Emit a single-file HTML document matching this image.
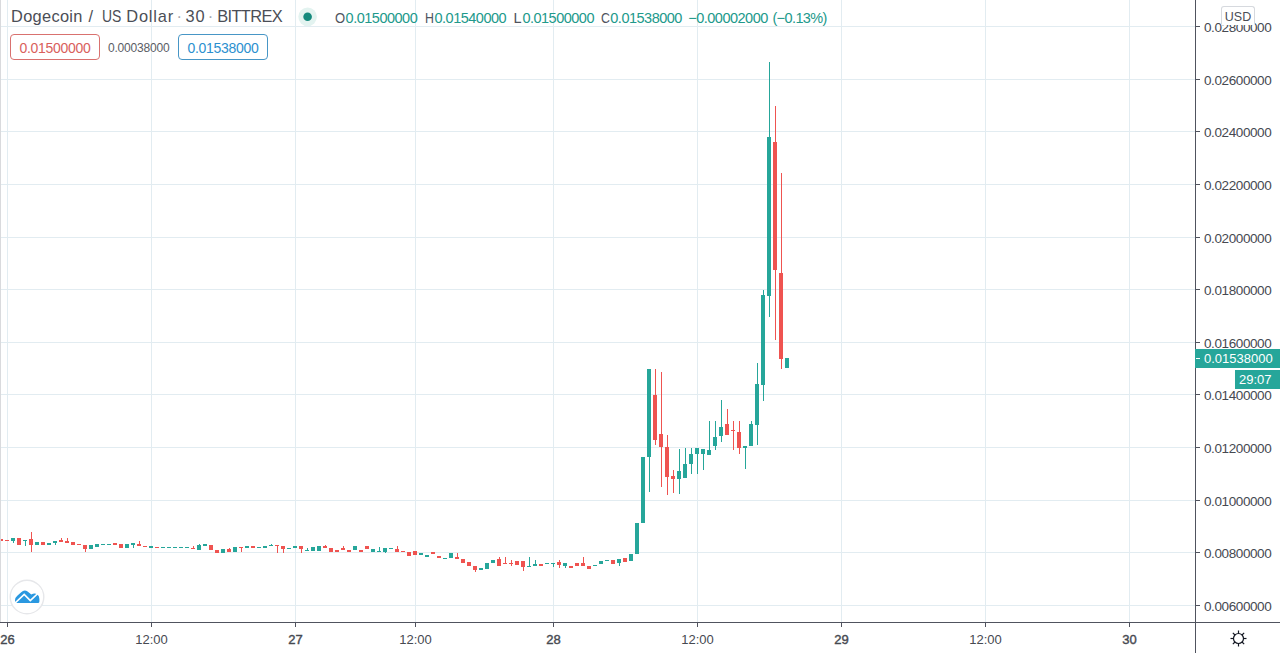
<!DOCTYPE html>
<html><head><meta charset="utf-8">
<style>
html,body{margin:0;padding:0;background:#ffffff;}
body{width:1280px;height:653px;position:relative;overflow:hidden;font-family:"Liberation Sans",sans-serif;}
svg{position:absolute;left:0;top:0;}
.pl{position:absolute;left:1204px;height:16px;line-height:16px;font-size:13.5px;letter-spacing:-0.4px;color:#464951;white-space:nowrap;}
.tl{position:absolute;top:632px;width:81px;text-align:center;height:16px;line-height:16px;font-size:13px;color:#464951;}
.tl.b{-webkit-text-stroke:0.4px #464951;}
.t{position:absolute;top:7px;font-size:16.4px;line-height:18px;color:#4b4e56;white-space:nowrap;}
.t.dot{color:#a3a6ad;}
.o{position:absolute;top:9.5px;font-size:14.5px;line-height:16px;color:#50535e;white-space:nowrap;}
.o.v{color:#21998b;letter-spacing:-0.5px;}
.box{position:absolute;top:34px;height:26px;border:1px solid;border-radius:4px;box-sizing:border-box;font-size:14px;letter-spacing:-0.3px;line-height:26px;text-indent:0px;text-align:center;}
.mid{position:absolute;left:108px;top:39.5px;font-size:12px;letter-spacing:-0.2px;line-height:16px;color:#5a5d65;}
.usd{position:absolute;left:1221px;top:6px;width:34px;height:19px;box-sizing:border-box;border:1px solid #d6d9de;border-bottom-color:transparent;border-radius:3px 3px 0 0;background:#ffffff;font-size:12.5px;line-height:18px;padding-top:1px;text-align:center;color:#4a4d56;}
.cur{position:absolute;left:1204px;top:351px;font-size:13px;line-height:16px;color:#ffffff;}
.cd{position:absolute;left:1239px;top:372px;font-size:13px;line-height:16px;color:#ffffff;}
</style></head><body>
<svg width="1280" height="653" viewBox="0 0 1280 653" shape-rendering="crispEdges">
<rect x="0" y="605" width="1195" height="1" fill="#e2ecf1"/>
<rect x="0" y="552" width="1195" height="1" fill="#e2ecf1"/>
<rect x="0" y="500" width="1195" height="1" fill="#e2ecf1"/>
<rect x="0" y="447" width="1195" height="1" fill="#e2ecf1"/>
<rect x="0" y="394" width="1195" height="1" fill="#e2ecf1"/>
<rect x="0" y="342" width="1195" height="1" fill="#e2ecf1"/>
<rect x="0" y="289" width="1195" height="1" fill="#e2ecf1"/>
<rect x="0" y="237" width="1195" height="1" fill="#e2ecf1"/>
<rect x="0" y="184" width="1195" height="1" fill="#e2ecf1"/>
<rect x="0" y="131" width="1195" height="1" fill="#e2ecf1"/>
<rect x="0" y="79" width="1195" height="1" fill="#e2ecf1"/>
<rect x="0" y="26" width="1195" height="1" fill="#e2ecf1"/>
<rect x="7" y="0" width="1" height="622" fill="#e2ecf1"/>
<rect x="151" y="0" width="1" height="622" fill="#e2ecf1"/>
<rect x="295" y="0" width="1" height="622" fill="#e2ecf1"/>
<rect x="415" y="0" width="1" height="622" fill="#e2ecf1"/>
<rect x="553" y="0" width="1" height="622" fill="#e2ecf1"/>
<rect x="697" y="0" width="1" height="622" fill="#e2ecf1"/>
<rect x="841" y="0" width="1" height="622" fill="#e2ecf1"/>
<rect x="985" y="0" width="1" height="622" fill="#e2ecf1"/>
<rect x="1129" y="0" width="1" height="622" fill="#e2ecf1"/>
<rect x="-1" y="538.5" width="4" height="2.0" fill="#ef5350"/>
<rect x="5" y="540.0" width="4" height="1.2" fill="#ef5350"/>
<rect x="13" y="537.5" width="1" height="5.2" fill="#26a69a"/>
<rect x="11" y="537.5" width="4" height="3.0" fill="#26a69a"/>
<rect x="17" y="538.0" width="4" height="6.5" fill="#ef5350"/>
<rect x="25" y="540.0" width="1" height="5.5" fill="#26a69a"/>
<rect x="23" y="540.0" width="4" height="1.2" fill="#26a69a"/>
<rect x="31" y="532.0" width="1" height="19.5" fill="#ef5350"/>
<rect x="29" y="539.0" width="4" height="6.0" fill="#ef5350"/>
<rect x="35" y="542.0" width="4" height="3.0" fill="#26a69a"/>
<rect x="41" y="541.5" width="4" height="3.0" fill="#ef5350"/>
<rect x="47" y="542.5" width="4" height="2.0" fill="#26a69a"/>
<rect x="55" y="540.5" width="1" height="4.0" fill="#26a69a"/>
<rect x="53" y="540.5" width="4" height="2.5" fill="#26a69a"/>
<rect x="61" y="537.9" width="1" height="3.7" fill="#ef5350"/>
<rect x="59" y="539.7" width="4" height="1.9" fill="#ef5350"/>
<rect x="67" y="538.0" width="1" height="4.5" fill="#ef5350"/>
<rect x="65" y="540.5" width="4" height="2.0" fill="#ef5350"/>
<rect x="71" y="542.2" width="4" height="2.4" fill="#ef5350"/>
<rect x="77" y="544.0" width="4" height="1.2" fill="#ef5350"/>
<rect x="85" y="545.1" width="1" height="6.7" fill="#ef5350"/>
<rect x="83" y="545.1" width="4" height="3.8" fill="#ef5350"/>
<rect x="89" y="545.4" width="4" height="3.2" fill="#26a69a"/>
<rect x="95" y="544.0" width="4" height="2.7" fill="#26a69a"/>
<rect x="101" y="543.5" width="4" height="1.2" fill="#26a69a"/>
<rect x="107" y="543.5" width="4" height="1.2" fill="#26a69a"/>
<rect x="113" y="543.2" width="4" height="1.6" fill="#ef5350"/>
<rect x="119" y="544.0" width="4" height="3.5" fill="#ef5350"/>
<rect x="125" y="544.0" width="4" height="3.5" fill="#26a69a"/>
<rect x="133" y="543.2" width="1" height="5.1" fill="#26a69a"/>
<rect x="131" y="543.2" width="4" height="1.6" fill="#26a69a"/>
<rect x="139" y="541.0" width="1" height="4.9" fill="#ef5350"/>
<rect x="137" y="543.8" width="4" height="2.1" fill="#ef5350"/>
<rect x="143" y="545.5" width="4" height="1.5" fill="#ef5350"/>
<rect x="149" y="546.2" width="4" height="1.6" fill="#26a69a"/>
<rect x="155" y="546.8" width="4" height="1.2" fill="#ef5350"/>
<rect x="161" y="547.0" width="4" height="1.2" fill="#26a69a"/>
<rect x="167" y="547.0" width="4" height="1.2" fill="#26a69a"/>
<rect x="173" y="547.0" width="4" height="1.2" fill="#26a69a"/>
<rect x="179" y="547.0" width="4" height="1.2" fill="#26a69a"/>
<rect x="185" y="547.0" width="4" height="1.2" fill="#26a69a"/>
<rect x="193" y="545.9" width="1" height="3.5" fill="#ef5350"/>
<rect x="191" y="547.5" width="4" height="1.9" fill="#ef5350"/>
<rect x="199" y="544.0" width="1" height="5.7" fill="#26a69a"/>
<rect x="197" y="544.8" width="4" height="4.9" fill="#26a69a"/>
<rect x="203" y="544.0" width="4" height="1.6" fill="#26a69a"/>
<rect x="209" y="545.1" width="4" height="4.6" fill="#ef5350"/>
<rect x="215" y="550.0" width="4" height="2.9" fill="#ef5350"/>
<rect x="221" y="549.1" width="4" height="4.0" fill="#26a69a"/>
<rect x="229" y="548.0" width="1" height="3.8" fill="#ef5350"/>
<rect x="227" y="549.1" width="4" height="2.7" fill="#ef5350"/>
<rect x="233" y="547.3" width="4" height="4.5" fill="#26a69a"/>
<rect x="241" y="546.7" width="1" height="5.1" fill="#ef5350"/>
<rect x="239" y="546.7" width="4" height="1.2" fill="#ef5350"/>
<rect x="245" y="546.2" width="4" height="1.6" fill="#26a69a"/>
<rect x="251" y="546.2" width="4" height="1.6" fill="#ef5350"/>
<rect x="257" y="547.0" width="4" height="1.3" fill="#26a69a"/>
<rect x="263" y="546.2" width="4" height="1.6" fill="#26a69a"/>
<rect x="271" y="544.0" width="1" height="1.9" fill="#26a69a"/>
<rect x="269" y="544.8" width="4" height="1.2" fill="#26a69a"/>
<rect x="277" y="545.0" width="1" height="8.0" fill="#ef5350"/>
<rect x="275" y="545.0" width="4" height="1.2" fill="#ef5350"/>
<rect x="283" y="546.2" width="1" height="6.7" fill="#ef5350"/>
<rect x="281" y="546.2" width="4" height="2.4" fill="#ef5350"/>
<rect x="287" y="548.0" width="4" height="1.2" fill="#26a69a"/>
<rect x="293" y="546.2" width="4" height="1.8" fill="#26a69a"/>
<rect x="301" y="546.2" width="1" height="6.8" fill="#ef5350"/>
<rect x="299" y="546.2" width="4" height="2.7" fill="#ef5350"/>
<rect x="307" y="547.8" width="1" height="3.2" fill="#26a69a"/>
<rect x="305" y="549.7" width="4" height="1.3" fill="#26a69a"/>
<rect x="311" y="547.0" width="4" height="3.7" fill="#26a69a"/>
<rect x="317" y="546.4" width="4" height="4.3" fill="#26a69a"/>
<rect x="325" y="545.0" width="1" height="3.0" fill="#ef5350"/>
<rect x="323" y="546.2" width="4" height="1.8" fill="#ef5350"/>
<rect x="329" y="548.0" width="4" height="3.8" fill="#ef5350"/>
<rect x="335" y="550.0" width="4" height="1.5" fill="#ef5350"/>
<rect x="343" y="546.2" width="1" height="3.5" fill="#ef5350"/>
<rect x="341" y="547.8" width="4" height="1.9" fill="#ef5350"/>
<rect x="347" y="550.0" width="4" height="1.5" fill="#ef5350"/>
<rect x="353" y="546.4" width="4" height="3.8" fill="#26a69a"/>
<rect x="359" y="550.0" width="4" height="1.5" fill="#ef5350"/>
<rect x="365" y="546.4" width="4" height="3.0" fill="#ef5350"/>
<rect x="371" y="549.4" width="4" height="2.1" fill="#26a69a"/>
<rect x="379" y="547.3" width="1" height="4.2" fill="#26a69a"/>
<rect x="377" y="550.7" width="4" height="1.2" fill="#26a69a"/>
<rect x="385" y="548.0" width="1" height="4.9" fill="#26a69a"/>
<rect x="383" y="548.0" width="4" height="3.5" fill="#26a69a"/>
<rect x="389" y="548.0" width="4" height="1.4" fill="#26a69a"/>
<rect x="397" y="546.2" width="1" height="5.3" fill="#ef5350"/>
<rect x="395" y="548.6" width="4" height="2.9" fill="#ef5350"/>
<rect x="401" y="551.0" width="4" height="1.2" fill="#ef5350"/>
<rect x="407" y="552.1" width="4" height="3.7" fill="#ef5350"/>
<rect x="413" y="551.0" width="4" height="4.3" fill="#ef5350"/>
<rect x="419" y="553.1" width="4" height="2.2" fill="#26a69a"/>
<rect x="425" y="555.3" width="4" height="1.3" fill="#26a69a"/>
<rect x="431" y="551.5" width="4" height="2.7" fill="#ef5350"/>
<rect x="437" y="555.5" width="4" height="2.7" fill="#ef5350"/>
<rect x="443" y="558.0" width="4" height="1.2" fill="#26a69a"/>
<rect x="449" y="553.1" width="4" height="4.6" fill="#26a69a"/>
<rect x="457" y="553.1" width="1" height="5.9" fill="#ef5350"/>
<rect x="455" y="557.4" width="4" height="1.6" fill="#ef5350"/>
<rect x="461" y="559.0" width="4" height="3.5" fill="#ef5350"/>
<rect x="467" y="562.3" width="4" height="4.0" fill="#ef5350"/>
<rect x="475" y="566.3" width="1" height="5.3" fill="#ef5350"/>
<rect x="473" y="566.3" width="4" height="3.5" fill="#ef5350"/>
<rect x="479" y="568.2" width="4" height="1.3" fill="#26a69a"/>
<rect x="485" y="563.3" width="4" height="5.7" fill="#26a69a"/>
<rect x="491" y="559.8" width="4" height="2.7" fill="#26a69a"/>
<rect x="499" y="557.2" width="1" height="9.1" fill="#ef5350"/>
<rect x="497" y="558.5" width="4" height="7.8" fill="#ef5350"/>
<rect x="505" y="557.2" width="1" height="6.7" fill="#ef5350"/>
<rect x="503" y="562.8" width="4" height="1.2" fill="#ef5350"/>
<rect x="511" y="560.4" width="1" height="5.9" fill="#ef5350"/>
<rect x="509" y="563.0" width="4" height="1.2" fill="#ef5350"/>
<rect x="515" y="560.6" width="4" height="4.3" fill="#ef5350"/>
<rect x="523" y="560.9" width="1" height="10.2" fill="#ef5350"/>
<rect x="521" y="560.9" width="4" height="5.9" fill="#ef5350"/>
<rect x="529" y="557.4" width="1" height="9.9" fill="#26a69a"/>
<rect x="527" y="565.7" width="4" height="1.6" fill="#26a69a"/>
<rect x="535" y="560.4" width="1" height="5.9" fill="#26a69a"/>
<rect x="533" y="564.1" width="4" height="2.2" fill="#26a69a"/>
<rect x="539" y="563.6" width="4" height="2.7" fill="#ef5350"/>
<rect x="545" y="563.0" width="4" height="1.2" fill="#26a69a"/>
<rect x="553" y="562.5" width="1" height="4.3" fill="#26a69a"/>
<rect x="551" y="562.5" width="4" height="1.4" fill="#26a69a"/>
<rect x="559" y="560.1" width="1" height="7.8" fill="#ef5350"/>
<rect x="557" y="562.3" width="4" height="2.9" fill="#ef5350"/>
<rect x="565" y="563.0" width="1" height="4.6" fill="#26a69a"/>
<rect x="563" y="563.0" width="4" height="3.3" fill="#26a69a"/>
<rect x="569" y="566.3" width="4" height="1.6" fill="#ef5350"/>
<rect x="575" y="563.3" width="4" height="3.0" fill="#ef5350"/>
<rect x="583" y="557.2" width="1" height="9.1" fill="#ef5350"/>
<rect x="581" y="563.0" width="4" height="3.3" fill="#ef5350"/>
<rect x="587" y="566.3" width="4" height="2.7" fill="#ef5350"/>
<rect x="593" y="565.2" width="4" height="1.2" fill="#26a69a"/>
<rect x="599" y="560.7" width="4" height="3.0" fill="#26a69a"/>
<rect x="605" y="560.0" width="4" height="1.2" fill="#26a69a"/>
<rect x="611" y="559.6" width="4" height="4.2" fill="#ef5350"/>
<rect x="619" y="559.2" width="1" height="6.3" fill="#26a69a"/>
<rect x="617" y="559.2" width="4" height="4.2" fill="#26a69a"/>
<rect x="623" y="557.5" width="4" height="4.2" fill="#ef5350"/>
<rect x="629" y="553.7" width="4" height="7.6" fill="#26a69a"/>
<rect x="635" y="522.6" width="4" height="31.1" fill="#26a69a"/>
<rect x="641" y="457.2" width="4" height="65.6" fill="#26a69a"/>
<rect x="649" y="369.0" width="1" height="122.7" fill="#26a69a"/>
<rect x="647" y="369.0" width="4" height="87.6" fill="#26a69a"/>
<rect x="655" y="369.0" width="1" height="75.8" fill="#ef5350"/>
<rect x="653" y="395.0" width="4" height="45.0" fill="#ef5350"/>
<rect x="661" y="371.7" width="1" height="115.2" fill="#ef5350"/>
<rect x="659" y="433.8" width="4" height="13.5" fill="#ef5350"/>
<rect x="667" y="434.5" width="1" height="60.0" fill="#ef5350"/>
<rect x="665" y="446.9" width="4" height="30.3" fill="#ef5350"/>
<rect x="673" y="470.3" width="1" height="22.8" fill="#ef5350"/>
<rect x="671" y="475.9" width="4" height="3.4" fill="#ef5350"/>
<rect x="679" y="449.0" width="1" height="44.8" fill="#26a69a"/>
<rect x="677" y="471.0" width="4" height="8.3" fill="#26a69a"/>
<rect x="685" y="447.9" width="1" height="29.7" fill="#26a69a"/>
<rect x="683" y="463.8" width="4" height="13.8" fill="#26a69a"/>
<rect x="691" y="447.9" width="1" height="26.2" fill="#26a69a"/>
<rect x="689" y="454.1" width="4" height="9.7" fill="#26a69a"/>
<rect x="697" y="447.9" width="1" height="26.2" fill="#26a69a"/>
<rect x="695" y="447.9" width="4" height="6.2" fill="#26a69a"/>
<rect x="703" y="448.6" width="1" height="21.4" fill="#26a69a"/>
<rect x="701" y="448.6" width="4" height="5.5" fill="#26a69a"/>
<rect x="709" y="421.0" width="1" height="33.8" fill="#26a69a"/>
<rect x="707" y="450.0" width="4" height="4.8" fill="#26a69a"/>
<rect x="715" y="421.0" width="1" height="29.0" fill="#26a69a"/>
<rect x="713" y="436.9" width="4" height="9.0" fill="#26a69a"/>
<rect x="721" y="399.7" width="1" height="42.0" fill="#26a69a"/>
<rect x="719" y="426.6" width="4" height="9.6" fill="#26a69a"/>
<rect x="727" y="408.6" width="1" height="26.5" fill="#ef5350"/>
<rect x="725" y="423.9" width="4" height="11.2" fill="#ef5350"/>
<rect x="733" y="421.4" width="1" height="28.2" fill="#ef5350"/>
<rect x="731" y="429.5" width="4" height="1.5" fill="#ef5350"/>
<rect x="739" y="421.4" width="1" height="32.2" fill="#ef5350"/>
<rect x="737" y="431.9" width="4" height="16.1" fill="#ef5350"/>
<rect x="745" y="446.4" width="1" height="22.5" fill="#26a69a"/>
<rect x="743" y="446.4" width="4" height="1.6" fill="#26a69a"/>
<rect x="751" y="421.4" width="1" height="25.0" fill="#26a69a"/>
<rect x="749" y="423.9" width="4" height="22.5" fill="#26a69a"/>
<rect x="757" y="363.4" width="1" height="81.4" fill="#26a69a"/>
<rect x="755" y="383.7" width="4" height="41.0" fill="#26a69a"/>
<rect x="763" y="289.7" width="1" height="110.8" fill="#26a69a"/>
<rect x="761" y="295.2" width="4" height="89.3" fill="#26a69a"/>
<rect x="769" y="61.7" width="1" height="254.8" fill="#26a69a"/>
<rect x="767" y="137.0" width="4" height="159.0" fill="#26a69a"/>
<rect x="775" y="106.3" width="1" height="233.2" fill="#ef5350"/>
<rect x="773" y="141.9" width="4" height="127.7" fill="#ef5350"/>
<rect x="781" y="172.8" width="1" height="196.4" fill="#ef5350"/>
<rect x="779" y="273.4" width="4" height="85.3" fill="#ef5350"/>
<rect x="785" y="358.4" width="4" height="10.0" fill="#26a69a"/>
<rect x="1195" y="0" width="1" height="653" fill="#50535e"/>
<rect x="0" y="622" width="1280" height="1" fill="#50535e"/>
<rect x="1196" y="605" width="4" height="1" fill="#50535e"/>
<rect x="1196" y="552" width="4" height="1" fill="#50535e"/>
<rect x="1196" y="500" width="4" height="1" fill="#50535e"/>
<rect x="1196" y="447" width="4" height="1" fill="#50535e"/>
<rect x="1196" y="394" width="4" height="1" fill="#50535e"/>
<rect x="1196" y="342" width="4" height="1" fill="#50535e"/>
<rect x="1196" y="289" width="4" height="1" fill="#50535e"/>
<rect x="1196" y="237" width="4" height="1" fill="#50535e"/>
<rect x="1196" y="184" width="4" height="1" fill="#50535e"/>
<rect x="1196" y="131" width="4" height="1" fill="#50535e"/>
<rect x="1196" y="79" width="4" height="1" fill="#50535e"/>
<rect x="1196" y="26" width="4" height="1" fill="#50535e"/>
<rect x="7" y="623" width="1" height="4" fill="#50535e"/>
<rect x="151" y="623" width="1" height="4" fill="#50535e"/>
<rect x="295" y="623" width="1" height="4" fill="#50535e"/>
<rect x="415" y="623" width="1" height="4" fill="#50535e"/>
<rect x="553" y="623" width="1" height="4" fill="#50535e"/>
<rect x="697" y="623" width="1" height="4" fill="#50535e"/>
<rect x="841" y="623" width="1" height="4" fill="#50535e"/>
<rect x="985" y="623" width="1" height="4" fill="#50535e"/>
<rect x="1129" y="623" width="1" height="4" fill="#50535e"/>
<rect x="0" y="0" width="1" height="622" fill="#d9dadd"/>
<rect x="1195" y="349" width="85" height="19" fill="#26a69a"/>
<rect x="1196" y="358" width="4" height="1" fill="#ffffff"/>
<rect x="1235" y="370" width="45" height="19" fill="#26a69a"/>
<circle shape-rendering="geometricPrecision" cx="27" cy="597" r="16.8" fill="#ffffff" stroke="#e6e7ea" stroke-width="1.4"/>
<path shape-rendering="geometricPrecision" d="M15 600.2 Q15 597.6 17.3 595.7 L21.2 592.3 Q24.3 589.2 27.6 591.6 L31.3 594.6 Q34.4 592.4 37.2 594.2 Q39.4 595.7 39.4 599 L39.4 601.6 Q39.4 603.1 37.9 603.1 L17.2 603.1 Q15 603.1 15 600.2 Z" fill="#2a98e0"/>
<path shape-rendering="geometricPrecision" d="M13.5 604.5 L24.2 594.4 L30.3 600.6 L41.5 590" fill="none" stroke="#ffffff" stroke-width="1.7" stroke-linejoin="miter"/>
<circle shape-rendering="geometricPrecision" cx="1238.5" cy="638.5" r="5" fill="none" stroke="#131722" stroke-width="1.2"/>
<line x1="1243.50" y1="638.50" x2="1246.50" y2="638.50" stroke="#131722" stroke-width="1.2" shape-rendering="geometricPrecision"/>
<line x1="1242.04" y1="642.04" x2="1244.16" y2="644.16" stroke="#131722" stroke-width="1.2" shape-rendering="geometricPrecision"/>
<line x1="1238.50" y1="643.50" x2="1238.50" y2="646.50" stroke="#131722" stroke-width="1.2" shape-rendering="geometricPrecision"/>
<line x1="1234.96" y1="642.04" x2="1232.84" y2="644.16" stroke="#131722" stroke-width="1.2" shape-rendering="geometricPrecision"/>
<line x1="1233.50" y1="638.50" x2="1230.50" y2="638.50" stroke="#131722" stroke-width="1.2" shape-rendering="geometricPrecision"/>
<line x1="1234.96" y1="634.96" x2="1232.84" y2="632.84" stroke="#131722" stroke-width="1.2" shape-rendering="geometricPrecision"/>
<line x1="1238.50" y1="633.50" x2="1238.50" y2="630.50" stroke="#131722" stroke-width="1.2" shape-rendering="geometricPrecision"/>
<line x1="1242.04" y1="634.96" x2="1244.16" y2="632.84" stroke="#131722" stroke-width="1.2" shape-rendering="geometricPrecision"/>
<circle shape-rendering="geometricPrecision" cx="307.6" cy="16.8" r="9.3" fill="#e3f3f0"/>
<circle shape-rendering="geometricPrecision" cx="307.6" cy="16.8" r="4.3" fill="#14897c"/>
</svg>
<div class="pl" style="top:599px">0.00600000</div><div class="pl" style="top:546px">0.00800000</div><div class="pl" style="top:494px">0.01000000</div><div class="pl" style="top:441px">0.01200000</div><div class="pl" style="top:388px">0.01400000</div><div class="pl" style="top:336px">0.01600000</div><div class="pl" style="top:283px">0.01800000</div><div class="pl" style="top:231px">0.02000000</div><div class="pl" style="top:178px">0.02200000</div><div class="pl" style="top:125px">0.02400000</div><div class="pl" style="top:73px">0.02600000</div><div class="pl" style="top:20px">0.02800000</div>
<div class="tl b" style="left:-33px">26</div><div class="tl" style="left:111px">12:00</div><div class="tl b" style="left:255px">27</div><div class="tl" style="left:375px">12:00</div><div class="tl b" style="left:513px">28</div><div class="tl" style="left:657px">12:00</div><div class="tl b" style="left:801px">29</div><div class="tl" style="left:945px">12:00</div><div class="tl b" style="left:1089px">30</div>
<div class="t" style="left:11px;letter-spacing:0.3px">Dogecoin</div><div class="t" style="left:88.5px">/</div><div class="t" style="left:101.5px;transform:scaleX(0.85);transform-origin:0 0">US</div><div class="t" style="left:126.3px;letter-spacing:0.8px">Dollar</div><div class="t dot" style="left:176.5px">·</div><div class="t" style="left:185.4px;letter-spacing:1px">30</div><div class="t dot" style="left:207.8px">·</div><div class="t" style="left:217.3px;letter-spacing:-0.65px">BITTREX</div>
<div class="o" style="left:335px;transform:scaleX(0.9);transform-origin:0 0">O</div><div class="o v" style="left:345.6px">0.01500000</div><div class="o" style="left:424.7px;transform:scaleX(0.85);transform-origin:0 0">H</div><div class="o v" style="left:434.5px">0.01540000</div><div class="o" style="left:513.6px">L</div><div class="o v" style="left:522.4px">0.01500000</div><div class="o" style="left:600.5px;transform:scaleX(0.85);transform-origin:0 0">C</div><div class="o v" style="left:610.3px">0.01538000</div><div class="o v" style="left:688.2px">−0.00002000</div><div class="o v" style="left:772.4px;letter-spacing:-0.6px">(−0.13%)</div>
<div class="box" style="left:10px;width:90px;border-color:#d9716f;color:#d9605c;">0.01500000</div>
<div class="mid">0.00038000</div>
<div class="box" style="left:178px;width:90px;border-color:#4796c6;color:#2c90cf;">0.01538000</div>
<div class="usd">USD</div>
<div class="cur">0.01538000</div>
<div class="cd">29:07</div>
</body></html>
